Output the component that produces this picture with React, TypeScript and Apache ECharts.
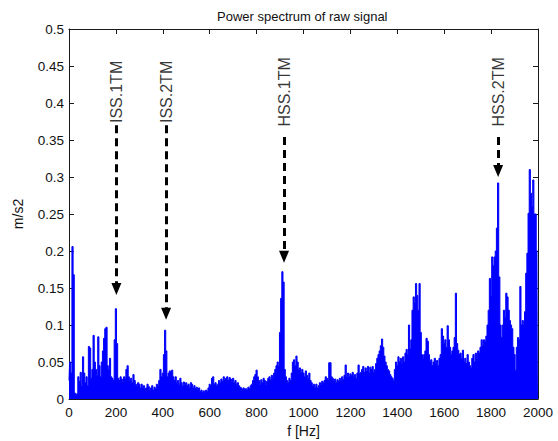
import React, { useEffect, useRef } from "react";
import * as echarts from "echarts";

// Spectrum amplitude (m/s2), one value per 5 Hz bin, 0..2000 Hz
const FREQ_STEP = 5;
const amp0_245 = [
  0.025, 0.05, 0.035, 0.206, 0.168, 0.008, 0.005, 0.007, 0.03, 0.024,
  0.036, 0.018, 0.057, 0.035, 0.022, 0.03, 0.018, 0.071, 0.069, 0.028,
  0.04, 0.086, 0.05, 0.04, 0.032, 0.084, 0.045, 0.03, 0.05, 0.065,
  0.082, 0.095, 0.097, 0.045, 0.04, 0.055, 0.03, 0.028, 0.025, 0.08,
  0.122, 0.075, 0.028, 0.025, 0.03, 0.027, 0.024, 0.03, 0.028, 0.04,
];
const amp250_495 = [
  0.045, 0.03, 0.025, 0.028, 0.022, 0.033, 0.025, 0.02, 0.018, 0.022,
  0.02, 0.015, 0.02, 0.016, 0.018, 0.014, 0.015, 0.02, 0.017, 0.013,
  0.015, 0.018, 0.012, 0.016, 0.014, 0.02, 0.018, 0.025, 0.04, 0.03,
  0.035, 0.06, 0.093, 0.065, 0.03, 0.035, 0.038, 0.037, 0.039, 0.03,
  0.025, 0.03, 0.022, 0.025, 0.02, 0.028, 0.022, 0.018, 0.023, 0.02,
];
const amp500_745 = [
  0.022, 0.018, 0.02, 0.016, 0.022, 0.02, 0.015, 0.018, 0.014, 0.016,
  0.012, 0.015, 0.01, 0.012, 0.009, 0.011, 0.008, 0.012, 0.01, 0.015,
  0.02, 0.018, 0.028, 0.03, 0.02, 0.022, 0.018, 0.02, 0.025, 0.022,
  0.027, 0.024, 0.03, 0.026, 0.028, 0.03, 0.025, 0.029, 0.027, 0.024,
  0.028, 0.022, 0.025, 0.02, 0.022, 0.018, 0.016, 0.015, 0.013, 0.015,
];
const amp750_995 = [
  0.012, 0.014, 0.012, 0.016, 0.014, 0.018, 0.02, 0.025, 0.03, 0.033,
  0.039, 0.03, 0.025, 0.02, 0.026, 0.022, 0.028, 0.025, 0.02, 0.024,
  0.028, 0.03, 0.026, 0.032, 0.028, 0.035, 0.04, 0.045, 0.05, 0.045,
  0.09, 0.136, 0.172, 0.158, 0.04, 0.03, 0.025, 0.022, 0.028, 0.025,
  0.035, 0.05, 0.053, 0.045, 0.058, 0.05, 0.04, 0.042, 0.035, 0.04,
];
const amp1000_1245 = [
  0.035, 0.03, 0.038, 0.032, 0.028, 0.035, 0.025, 0.022, 0.018, 0.02,
  0.016, 0.02, 0.015, 0.018, 0.022, 0.02, 0.024, 0.022, 0.025, 0.03,
  0.028, 0.026, 0.049, 0.049, 0.03, 0.028, 0.025, 0.027, 0.022, 0.026,
  0.024, 0.028, 0.025, 0.03, 0.026, 0.032, 0.046, 0.03, 0.035, 0.03,
  0.034, 0.032, 0.036, 0.03, 0.033, 0.028, 0.035, 0.046, 0.034, 0.036,
];
const amp1250_1495 = [
  0.04, 0.044, 0.036, 0.042, 0.038, 0.044, 0.035, 0.043, 0.04, 0.044,
  0.036, 0.04, 0.048, 0.055, 0.06, 0.065, 0.072, 0.081, 0.07, 0.058,
  0.05, 0.045, 0.04, 0.038, 0.033, 0.03, 0.028, 0.025, 0.04, 0.05,
  0.045, 0.057, 0.05, 0.055, 0.048, 0.057, 0.05, 0.062, 0.067, 0.06,
  0.1, 0.068, 0.08, 0.12, 0.138, 0.13, 0.156, 0.14, 0.12, 0.156,
];
const amp1500_1745 = [
  0.09, 0.06, 0.055, 0.06, 0.065, 0.082, 0.078, 0.06, 0.05, 0.053,
  0.045, 0.05, 0.055, 0.048, 0.052, 0.045, 0.055, 0.06, 0.095, 0.085,
  0.075, 0.08, 0.07, 0.099, 0.08, 0.07, 0.06, 0.065, 0.07, 0.083,
  0.143, 0.075, 0.066, 0.06, 0.062, 0.055, 0.066, 0.05, 0.055, 0.048,
  0.06, 0.05, 0.045, 0.042, 0.055, 0.06, 0.05, 0.062, 0.055, 0.065,
];
const amp1750_2000 = [
  0.062, 0.07, 0.08, 0.072, 0.08, 0.078, 0.085, 0.1, 0.12, 0.163,
  0.14, 0.192, 0.18, 0.192, 0.2, 0.231, 0.292, 0.165, 0.1, 0.083,
  0.1, 0.12, 0.11, 0.143, 0.138, 0.12, 0.106, 0.1, 0.095, 0.07,
  0.06, 0.039, 0.07, 0.083, 0.08, 0.152, 0.1, 0.106, 0.1, 0.118,
  0.17, 0.197, 0.251, 0.31, 0.278, 0.26, 0.296, 0.25, 0.25, 0.2, 0.2,
];

// Annotations
const markNames = ["ISS.1TM", "ISS.2TM", "HSS.1TM", "HSS.2TM"];
const markFreqs = [202, 414, 917, 1830];
const markTips = [0.1405, 0.107, 0.184, 0.3];
const markStarts = [0.37, 0.37, 0.354, 0.354];
const labelLevel = 0.415;

const xTicks = { min: 0, max: 2000, interval: 200 };
const yTicks = { min: 0, max: 0.5, interval: 0.05 };

const amplitudes = [
  ...amp0_245, ...amp250_495, ...amp500_745, ...amp750_995,
  ...amp1000_1245, ...amp1250_1495, ...amp1500_1745, ...amp1750_2000,
];

export default function App() {
  const ref = useRef<HTMLDivElement>(null);
  useEffect(() => {
    if (!ref.current) return;
    const chart = echarts.init(ref.current, undefined, { renderer: "svg" });
    const font = "'Liberation Sans', Arial, sans-serif";
    const arrowHalf = 6 / 740;
    const data = amplitudes.map((v, i) => [i * FREQ_STEP, v]);
    const axisLine = { show: true, onZero: false, lineStyle: { color: "#1a1a1a", width: 1 } };
    const tick = { show: true, inside: true, length: 5, lineStyle: { color: "#1a1a1a" } };
    const fmt = (v: number) => String(Number(v.toFixed(2)));
    chart.setOption({
      animation: false,
      backgroundColor: "#fff",
      title: {
        text: "Power spectrum of raw signal",
        left: 212,
        top: 5,
        textStyle: { fontFamily: font, fontSize: 13, fontWeight: "normal", color: "#111" },
      },
      grid: {
        left: 69,
        right: 20,
        top: 29,
        bottom: 42,
        containLabel: false,
        outerBoundsMode: "none",
      },
      xAxis: [
        {
          type: "value",
          ...xTicks,
          name: "f [Hz]",
          nameLocation: "middle",
          nameGap: 22,
          nameTextStyle: { fontFamily: font, fontSize: 14, color: "#111" },
          axisLine,
          axisTick: tick,
          axisLabel: { fontFamily: font, fontSize: 13.5, color: "#111", margin: 6, formatter: fmt },
          splitLine: { show: false },
        },
        {
          type: "value",
          position: "top",
          ...xTicks,
          axisLine,
          axisTick: tick,
          axisLabel: { show: false },
          splitLine: { show: false },
        },
      ],
      yAxis: [
        {
          type: "value",
          ...yTicks,
          name: "m/s2",
          nameLocation: "middle",
          nameGap: 44,
          nameTextStyle: { fontFamily: font, fontSize: 14, color: "#111" },
          axisLine,
          axisTick: tick,
          axisLabel: { fontFamily: font, fontSize: 13.5, color: "#111", margin: 5, formatter: fmt },
          splitLine: { show: false },
        },
        {
          type: "value",
          position: "right",
          ...yTicks,
          axisLine,
          axisTick: tick,
          axisLabel: { show: false },
          splitLine: { show: false },
        },
      ],
      series: [
        {
          type: "line",
          data,
          step: "middle",
          symbol: "none",
          lineStyle: { color: "#0000ff", width: 1 },
          areaStyle: { color: "#0000ff", opacity: 1 },
          silent: true,
          markLine: {
            silent: true,
            symbol: ["none", "triangle"],
            symbolSize: [10, 12],
            label: { show: false },
            lineStyle: { color: "#000", type: [8, 5], width: 3 },
            data: markFreqs.map((f, i) => [
              { coord: [f, markStarts[i]] },
              { coord: [f, markTips[i] + arrowHalf] },
            ]),
          },
        },
        {
          type: "scatter",
          data: markFreqs.map((f) => [f, labelLevel]),
          symbolSize: 1,
          itemStyle: { color: "rgba(0,0,0,0)" },
          silent: true,
          label: {
            show: true,
            position: "inside",
            rotate: 90,
            fontFamily: font,
            fontSize: 16,
            color: "#000",
            formatter: (p: any) => markNames[p.dataIndex],
          },
        },
      ],
    });
    return () => chart.dispose();
  }, []);
  return (
    <div
      ref={ref}
      style={{ position: "absolute", left: 0, top: 0, width: 558, height: 441 }}
    />
  );
}
